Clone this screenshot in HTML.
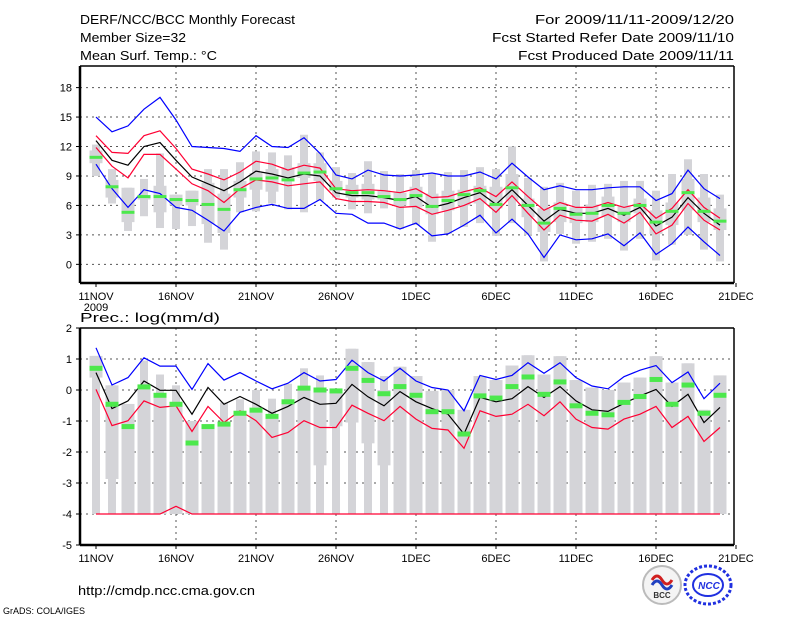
<!DOCTYPE html>
<html><head><meta charset="utf-8"><style>
html,body{margin:0;padding:0;background:#fff;}
svg{display:block;}
text{font-family:"Liberation Sans",sans-serif;}
</style></head><body>
<svg id="chart" width="800" height="618" viewBox="0 0 800 618" xmlns="http://www.w3.org/2000/svg">
<rect width="800" height="618" fill="#fff"/>
<g font-size="13" fill="#000">
<text x="80" y="24" textLength="215" lengthAdjust="spacingAndGlyphs">DERF/NCC/BCC Monthly Forecast</text>
<text x="80" y="42" textLength="106" lengthAdjust="spacingAndGlyphs">Member Size=32</text>
<text x="80" y="60" textLength="137" lengthAdjust="spacingAndGlyphs">Mean Surf. Temp.: °C</text>
<text x="535" y="24" textLength="199" lengthAdjust="spacingAndGlyphs">For 2009/11/11-2009/12/20</text>
<text x="492" y="42" textLength="242" lengthAdjust="spacingAndGlyphs">Fcst Started Refer Date 2009/11/10</text>
<text x="518" y="60" textLength="216" lengthAdjust="spacingAndGlyphs">Fcst Produced Date 2009/11/11</text>
<text x="80" y="322" textLength="140" lengthAdjust="spacingAndGlyphs">Prec.: log(mm/d)</text>
<text x="78" y="595" textLength="177" lengthAdjust="spacingAndGlyphs">http://cmdp.ncc.cma.gov.cn</text>
<text x="3" y="614" font-size="9">GrADS: COLA/IGES</text>
</g>
<g id="top"></g>
<g id="bot"></g>
<g>
<circle cx="662" cy="585" r="19" fill="#f4f4f4" stroke="#bbb" stroke-width="2"/>
<path d="M652 580 q5 -8 10 0 q5 8 10 0" stroke="#d02020" stroke-width="3" fill="none"/>
<path d="M652 585 q5 -8 10 0 q5 8 10 0" stroke="#2040c0" stroke-width="3" fill="none"/>
<text x="662" y="598" font-size="8" font-weight="bold" text-anchor="middle" fill="#333" font-family="Liberation Serif,serif">BCC</text>
</g>
<g>
<ellipse cx="708" cy="585" rx="23" ry="19" fill="none" stroke="#2030e0" stroke-width="3" stroke-dasharray="3 2"/>
<ellipse cx="708" cy="585" rx="15" ry="11" fill="#fff" stroke="#2030e0" stroke-width="2"/>
<text x="709" y="589" font-size="10" font-weight="bold" font-style="italic" text-anchor="middle" fill="#2030e0">NCC</text>
</g>
</svg>
<script>
const days = ["11NOV","16NOV","21NOV","26NOV","1DEC","6DEC","11DEC","16DEC","21DEC"];
// Temperature panel
const tBlueHi = [15.0,13.5,14.1,15.8,17.0,14.7,12.0,11.9,11.8,11.5,13.1,12.0,11.9,12.9,11.3,9.1,8.7,9.6,9.1,9.0,9.1,9.3,9.0,9.0,9.4,8.7,10.3,8.9,7.6,8.0,7.6,7.6,7.8,7.9,7.9,6.5,7.2,9.6,7.7,6.7];
const tRedHi = [13.1,11.4,11.3,13.1,13.6,11.8,9.7,9.2,8.6,9.4,10.5,10.2,9.6,10.1,9.8,7.7,7.5,7.6,7.5,7.3,7.7,6.8,6.9,7.4,7.8,6.9,8.4,6.9,5.5,6.3,5.8,5.8,6.3,5.8,6.2,4.7,5.7,7.6,5.8,4.7];
const tMean = [12.6,10.6,10.1,12.0,12.4,10.6,8.9,8.2,7.5,8.4,9.5,9.2,8.8,9.2,9.0,7.3,7.0,7.0,6.8,6.5,6.9,5.8,6.2,6.8,7.3,6.1,7.6,6.0,4.4,5.6,5.2,5.2,5.7,5.0,5.8,3.9,4.8,6.8,5.2,4.0];
const tRedLo = [11.9,10.0,8.8,11.2,11.2,9.7,8.2,7.5,6.3,7.7,8.6,8.4,8.0,8.2,8.4,6.7,6.4,6.4,6.3,5.8,5.9,5.1,5.5,6.0,6.7,5.3,7.0,5.2,3.5,5.0,4.5,4.4,5.1,4.2,5.3,3.1,4.0,6.2,4.5,3.5];
const tBlueLo = [10.2,7.7,5.8,7.6,7.2,5.8,5.5,4.5,3.4,5.3,5.8,6.1,5.7,5.7,6.6,5.2,5.1,4.2,4.2,3.6,4.2,2.9,3.1,4.0,5.0,3.2,4.6,3.1,0.7,3.0,2.5,2.6,3.1,1.9,3.2,1.0,2.1,3.8,2.3,0.9];
const tObs = [10.9,7.9,5.3,6.9,6.9,6.6,6.5,6.1,5.6,7.6,8.7,8.8,8.6,9.3,9.4,7.7,7.3,7.3,6.9,6.6,7.0,5.9,6.5,7.1,7.5,6.1,7.8,6.0,4.2,5.7,5.1,5.2,6.0,5.2,6.0,4.3,5.4,7.3,5.4,4.4];
const tMax = [12.2,9.7,7.8,8.7,11.3,7.1,7.5,9.7,9.7,10.4,11.5,11.4,11.1,13.2,11.4,9.9,9.3,10.5,9.5,9.2,9.6,9.2,9.4,9.6,9.9,9.7,12.0,8.8,7.9,8.3,7.5,8.1,8.2,8.5,8.5,7.5,9.2,10.7,9.2,7.1];
const tMin = [9.0,6.2,3.4,4.9,3.7,3.6,3.9,2.2,1.5,5.3,5.4,6.2,5.6,5.3,6.5,6.8,5.6,5.2,5.7,3.6,4.0,2.3,3.1,3.8,4.2,2.9,4.2,3.0,0.3,3.1,2.1,2.3,2.6,1.4,2.6,0.4,2.0,3.0,1.5,0.3];
const tBoxHi = [11.6,8.6,7.8,7.0,8.0,7.1,7.5,8.3,7.2,8.5,9.3,9.7,9.9,10.3,10.3,8.5,8.1,8.2,7.5,7.3,7.9,7.2,7.5,7.6,8.0,7.9,9.2,6.7,5.7,6.3,5.8,6.1,6.9,6.0,6.7,5.5,6.3,8.7,6.8,5.7];
const tBoxLo = [10.3,6.8,4.3,6.6,5.3,6.0,6.0,4.1,3.2,6.8,7.6,7.4,8.5,8.8,8.5,7.5,6.8,6.6,6.6,6.0,5.8,5.1,5.5,6.0,6.2,5.7,6.5,4.8,3.3,4.3,4.2,4.3,4.8,4.3,5.2,3.1,4.0,5.5,4.3,3.5];
const tTicks = [0,3,6,9,12,15,18];
// Precipitation panel
const pBlueHi = [1.36,0.16,0.4,1.04,0.77,0.77,0.02,0.85,0.32,0.56,0.29,0.04,0.22,0.56,0.29,0.34,0.96,0.56,0.29,0.7,0.29,0.08,0.0,-0.67,0.47,0.34,0.47,0.88,0.54,0.88,0.4,0.13,0.04,0.43,0.64,0.79,0.24,0.58,-0.28,0.22];
const pMean = [0.56,-0.6,-0.35,0.29,-0.01,-0.01,-0.78,0.08,-0.46,-0.21,-0.46,-0.75,-0.53,-0.24,-0.46,-0.43,0.18,-0.22,-0.51,-0.05,-0.38,-0.6,-0.78,-1.42,-0.24,-0.38,-0.28,0.11,-0.24,0.11,-0.35,-0.64,-0.69,-0.43,-0.19,0.02,-0.53,-0.14,-1.05,-0.56];
const pRedLo = [0.02,-1.15,-0.99,-0.35,-0.56,-0.51,-1.34,-0.53,-1.05,-0.67,-0.99,-1.53,-1.37,-0.99,-1.21,-1.21,-0.49,-0.75,-0.99,-0.53,-0.94,-1.24,-1.29,-1.88,-0.67,-0.85,-0.78,-0.46,-0.83,-0.38,-0.94,-1.21,-1.26,-0.94,-0.78,-0.53,-1.21,-0.85,-1.66,-1.21];
const pRedFloor = [-4,-4,-4,-4,-4,-3.75,-4,-4,-4,-4,-4,-4,-4,-4,-4,-4,-4,-4,-4,-4,-4,-4,-4,-4,-4,-4,-4,-4,-4,-4,-4,-4,-4,-4,-4,-4,-4,-4,-4,-4];
const pObs = [0.7,-0.46,-1.18,0.1,-0.17,-0.46,-1.71,-1.18,-1.1,-0.75,-0.65,-0.85,-0.38,0.06,0.0,-0.03,0.7,0.31,-0.12,0.11,-0.17,-0.7,-0.7,-1.42,-0.19,-0.26,0.11,0.42,-0.14,0.26,-0.51,-0.75,-0.8,-0.4,-0.21,0.34,-0.46,0.16,-0.75,-0.17];
const pMax = [1.1,0.15,-0.45,0.95,0.5,0.15,-1.0,-1.13,-0.4,-0.3,0.0,-0.28,0.2,0.7,0.47,0.0,1.33,0.9,0.45,0.75,0.45,-0.03,0.0,-0.64,0.45,0.32,0.79,1.12,0.5,1.09,0.32,0.08,0.0,0.24,0.4,1.09,0.24,0.86,-0.64,0.47];
const pBoxHi = [1.1,0.15,-0.45,0.05,-0.2,-0.5,-1.0,-1.13,-1.1,-0.75,-0.7,-0.85,-0.4,0.05,-0.05,0.0,1.33,0.9,0.0,0.75,0.45,-0.03,0.0,-0.64,0.45,0.32,0.79,1.12,0.5,1.09,0.32,0.08,0.0,0.24,0.4,1.09,0.24,0.86,-0.64,0.47];
const pBoxLo = [0.4,-2.87,-4,-4,-4,-4,-4,-4,-4,-4,-4,-4,-4,-4,-2.43,-1.17,-1.05,-1.72,-2.43,-4,-4,-4,-4,-4,-4,-4,-4,-4,-4,-4,-4,-4,-4,-4,-4,-4,-4,-4,-4,-4];
const pMin = [-4,-4,-4,-4,-4,-4,-4,-4,-4,-4,-4,-4,-4,-4,-4,-4,-4,-4,-4,-4,-4,-4,-4,-4,-4,-4,-4,-4,-4,-4,-4,-4,-4,-4,-4,-4,-4,-4,-4,-4];
const pTicks = [-5,-4,-3,-2,-1,0,1,2];

const NS = "http://www.w3.org/2000/svg";
const X0 = 80, X1 = 734;
const xDay = d => 96 + 16 * d;
function mk(parent, tag, attrs) {
  const e = document.createElementNS(NS, tag);
  for (const k in attrs) e.setAttribute(k, attrs[k]);
  parent.appendChild(e);
  return e;
}
function panel(g, yTop, yBot, vTop, vBot, ticks, series, boxes, obs, obsH, showYear) {
  const yv = v => yTop + (vTop - v) / (vTop - vBot) * (yBot - yTop);
  ticks.forEach(t => {
    const y = yv(t);
    if (y > yTop + 1 && y < yBot - 1) {
      const l = mk(g, "line", {x1: X0, x2: X1, y1: y, y2: y, stroke: "#555", "stroke-width": 1, "stroke-dasharray": "2 4"});
      
      
    }
    const tl = mk(g, "text", {x: 72, y: y + 4, "text-anchor": "end", "font-size": 11});
    tl.textContent = t;
    
    
    mk(g, "line", {x1: X0 - 4, x2: X0, y1: y, y2: y, stroke: "#000"});
  });
  days.forEach((lab, i) => {
    const x = xDay(i * 5);
    if (i > 0 && i < days.length - 1) {
      const l = mk(g, "line", {x1: x, x2: x, y1: yTop, y2: yBot, stroke: "#555", "stroke-width": 1, "stroke-dasharray": "2 4"});
      
      
    }
    mk(g, "line", {x1: x, x2: x, y1: yBot, y2: yBot + 4, stroke: "#000"});
    const tl = mk(g, "text", {x: x, y: yBot + 17, "text-anchor": "middle", "font-size": 11});
    tl.textContent = lab;
    
    
  });
  if (showYear) {
    const yr = mk(g, "text", {x: 96, y: yBot + 28, "text-anchor": "middle", "font-size": 11});
    yr.textContent = "2009";
    
    
  }
  const [mx, bh, bl, mn] = boxes;
  mx.forEach((v, d) => {
    const x = xDay(d);
    const w = mk(g, "rect", {x: x - 4, y: yv(mx[d]), width: 8, height: Math.max(0, yv(mn[d]) - yv(mx[d])), fill: "#d4d4d8"});
    
    
    const b = mk(g, "rect", {x: x - 6.5, y: yv(bh[d]), width: 13, height: Math.max(0, yv(bl[d]) - yv(bh[d])), fill: "#d4d4d8"});
    
    
  });
  series.forEach(s => {
    const pts = s.data.map((v, d) => xDay(d) + "," + yv(v).toFixed(1)).join(" ");
    const p = mk(g, "polyline", {points: pts, fill: "none", stroke: s.color, "stroke-width": 1.2});
    
    
  });
  obs.forEach((v, d) => {
    const r = mk(g, "rect", {x: xDay(d) - 6.5, y: yv(v) - obsH / 2, width: 13, height: obsH, fill: "#4ce84c"});
    
    
  });
  mk(g, "line", {x1: X0, x2: X1, y1: yTop, y2: yTop, stroke: "#000", "stroke-width": 1.5});
  mk(g, "line", {x1: X1, x2: X1, y1: yTop, y2: yBot, stroke: "#000", "stroke-width": 1.5});
  mk(g, "line", {x1: X0, x2: X0, y1: yTop, y2: yBot, stroke: "#000", "stroke-width": 2.5});
  mk(g, "line", {x1: X0, x2: X1, y1: yBot, y2: yBot, stroke: "#000", "stroke-width": 2.5});
}
panel(document.getElementById("top"), 66, 283, 20.2, -1.9, tTicks,
  [{data: tBlueHi, color: "#0000ff", name: "upper-bound-line"},
   {data: tBlueLo, color: "#0000ff", name: "lower-bound-line"},
   {data: tRedHi, color: "#ff0033", name: "upper-std-line"},
   {data: tRedLo, color: "#ff0033", name: "lower-std-line"},
   {data: tMean, color: "#000000", name: "ensemble-mean-line"}],
  [tMax, tBoxHi, tBoxLo, tMin], tObs, 3, true);
panel(document.getElementById("bot"), 328, 545, 2, -5, pTicks,
  [{data: pRedFloor, color: "#ff0033", name: "lower-floor-line"},
   {data: pBlueHi, color: "#0000ff", name: "upper-bound-line"},
   {data: pRedLo, color: "#ff0033", name: "lower-std-line"},
   {data: pMean, color: "#000000", name: "ensemble-mean-line"}],
  [pMax, pBoxHi, pBoxLo, pMin], pObs, 5, false);
</script>
</body></html>
